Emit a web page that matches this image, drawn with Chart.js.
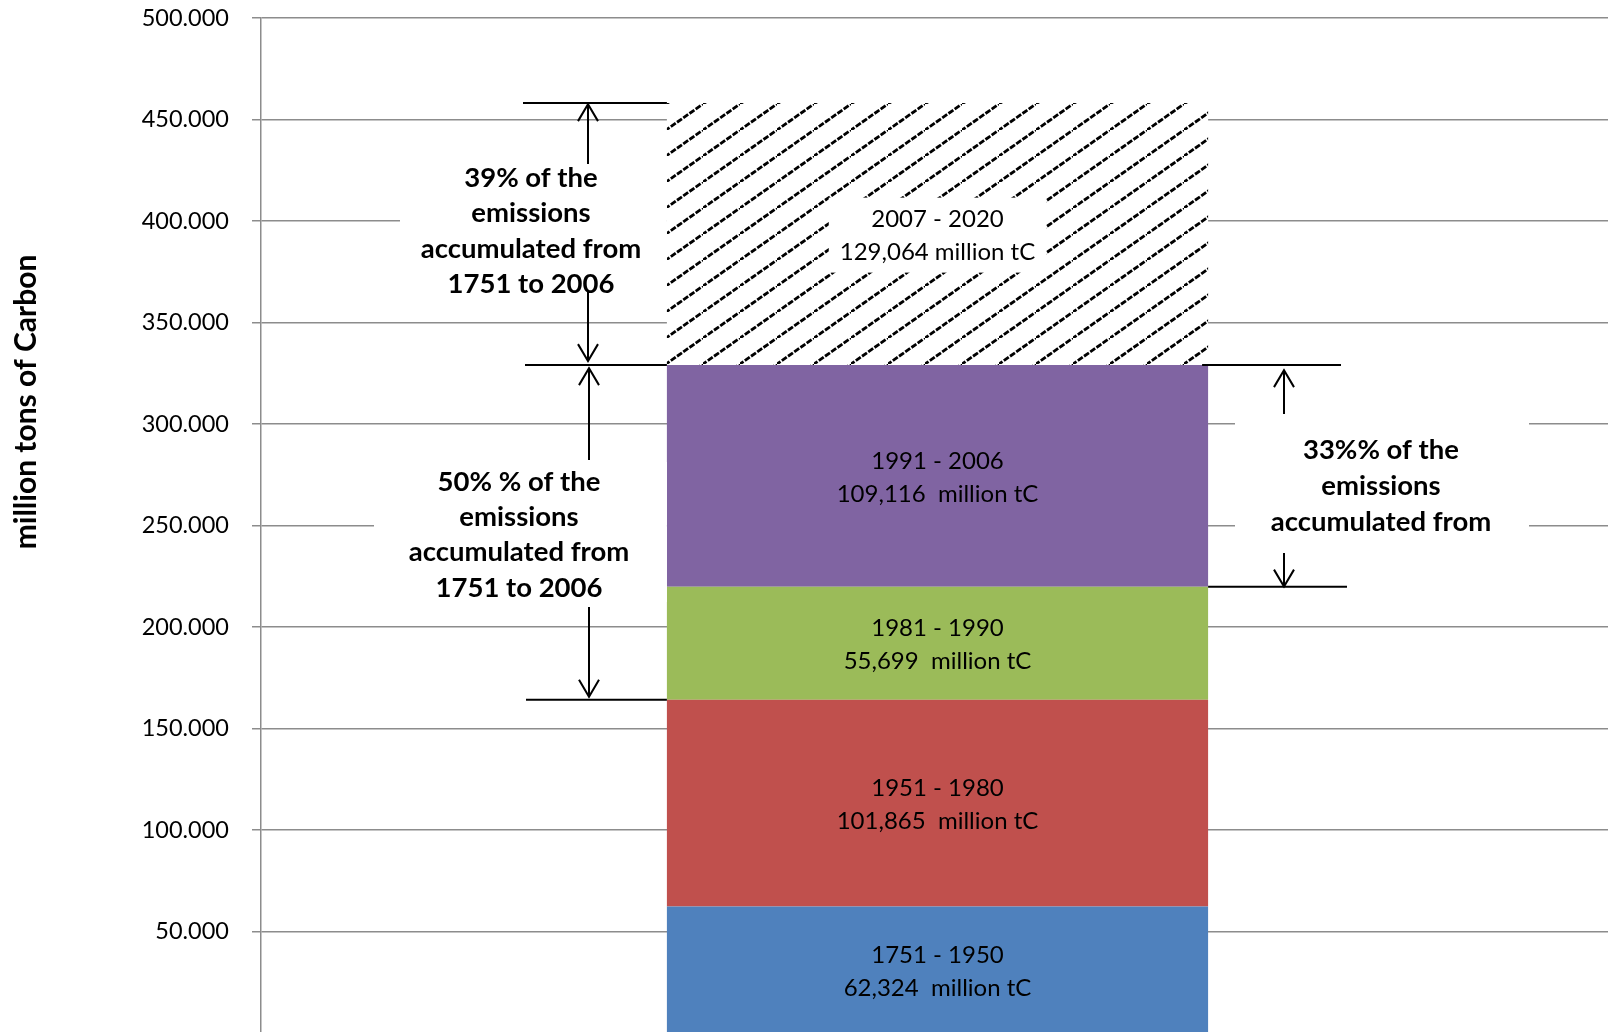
<!DOCTYPE html>
<html>
<head>
<meta charset="utf-8">
<script src="https://cdn.jsdelivr.net/npm/chart.js@4.4.0/dist/chart.umd.min.js"></script>
<style>
  html, body { margin: 0; padding: 0; background: #fff; overflow: hidden; }
</style>
</head>
<body>
<canvas id="chart" width="1614" height="1100"></canvas>
<script>
// periods stacked from the bottom up
const periods = ['1751 - 1950', '1951 - 1980', '1981 - 1990', '1991 - 2006', '2007 - 2020'];
const emissions = [62324, 101865, 55699, 109116, 129064];
const valueLabels = ['62,324  million tC', '101,865  million tC', '55,699  million tC', '109,116  million tC', '129,064 million tC'];
const segmentColors = ['#4F81BD', '#C0504D', '#9BBB59', '#8064A2', 'hatch'];
const yTicks = [0, 50000, 100000, 150000, 200000, 250000, 300000, 350000, 400000, 450000, 500000];
const yTitle = 'million tons of Carbon';

const noteLeftTop = ['39% of the', 'emissions', 'accumulated from', '1751 to 2006'];
const noteLeftBottom = ['50% % of the', 'emissions', 'accumulated from', '1751 to 2006'];
const noteRight = ['33%% of the', 'emissions', 'accumulated from'];

// cumulative totals, used for the bracket lines
const cumulative = [];
emissions.reduce((acc, v) => { cumulative.push(acc + v); return acc + v; }, 0);

const FONT = 'Lato, "Open Sans", sans-serif';

function fmtTick(v) {
    if (v === 0) return '';
    const k = Math.floor(v / 1000);
    return k + '.' + String(v % 1000).padStart(3, '0');
}

function makeHatch() {
    const c = document.createElement('canvas');
    c.width = 37; c.height = 26;
    const g = c.getContext('2d');
    g.fillStyle = '#fff';
    g.fillRect(0, 0, c.width, c.height);
    g.strokeStyle = '#000';
    g.lineWidth = 2.8;
    g.setLineDash([6, 1.6]);
    g.beginPath();
    g.moveTo(-1.4, 27);
    g.lineTo(38.4, -1);
    g.stroke();
    return g.createPattern(c, 'repeat');
}

function arrowHead(ctx, x, tipY, dir) {
    // dir = -1 points up, 1 points down
    ctx.beginPath();
    ctx.moveTo(x - 10, tipY - dir * 17);
    ctx.lineTo(x, tipY);
    ctx.lineTo(x + 10, tipY - dir * 17);
    ctx.stroke();
}

function vline(ctx, x, y1, y2) {
    ctx.beginPath();
    ctx.moveTo(x, y1);
    ctx.lineTo(x, y2);
    ctx.stroke();
}

function hline(ctx, x1, x2, y) {
    ctx.beginPath();
    ctx.moveTo(x1, y);
    ctx.lineTo(x2, y);
    ctx.stroke();
}

function textBlock(ctx, lines, cx, firstY, step) {
    lines.forEach((t, i) => ctx.fillText(t, cx, firstY + i * step));
}

const annotationPlugin = {
    id: 'annotations',
    afterDatasetsDraw(chart) {
        const ctx = chart.ctx;
        const y = chart.scales.y;
        const metas = chart.data.datasets.map((d, i) => chart.getDatasetMeta(i).data[0]);
        const bar = metas[0];
        const barLeft = bar.x - bar.width / 2;
        const barRight = bar.x + bar.width / 2;

        ctx.save();
        // segment labels
        ctx.textAlign = 'center';
        ctx.textBaseline = 'middle';
        ctx.font = '24px ' + FONT;
        metas.forEach((el, i) => {
            const cy = (el.y + el.base) / 2 + 1.5;
            if (segmentColors[i] === 'hatch') {
                const w = Math.max(ctx.measureText(periods[i]).width, ctx.measureText(valueLabels[i]).width) + 22;
                ctx.fillStyle = '#fff';
                ctx.fillRect(el.x - w / 2, cy - 38, w, 75);
            }
            ctx.fillStyle = '#000';
            ctx.fillText(periods[i], el.x, cy - 16);
            ctx.fillText(valueLabels[i], el.x, cy + 17);
        });

        const yTotal = y.getPixelForValue(cumulative[4]);
        const y2006 = y.getPixelForValue(cumulative[3]);
        const y1990 = y.getPixelForValue(cumulative[2]);
        const y1980 = y.getPixelForValue(cumulative[1]);

        // white boxes behind the notes hide the grid lines
        ctx.fillStyle = '#fff';
        ctx.fillRect(400, 160, barLeft - 400, 136);
        ctx.fillRect(374, 462, barLeft - 374, 140);
        ctx.fillRect(1235, 417, 294, 130);

        // bracket lines
        ctx.strokeStyle = '#000';
        ctx.lineWidth = 2;
        hline(ctx, 523, barLeft, yTotal);
        hline(ctx, 525, barLeft, y2006);
        hline(ctx, 526, barLeft, y1980);
        hline(ctx, barRight - 6, 1341, y2006);
        hline(ctx, barRight, 1347, y1990);

        // arrows, left top
        vline(ctx, 588, yTotal + 1, 164);
        arrowHead(ctx, 588, yTotal + 1, -1);
        vline(ctx, 588, 292, y2006 - 4);
        arrowHead(ctx, 588, y2006 - 4, 1);
        // left bottom
        vline(ctx, 589, y2006 + 3, 460);
        arrowHead(ctx, 589, y2006 + 3, -1);
        vline(ctx, 589, 607, y1980 - 3);
        arrowHead(ctx, 589, y1980 - 3, 1);
        // right
        vline(ctx, 1284, y2006 + 5, 414);
        arrowHead(ctx, 1284, y2006 + 5, -1);
        vline(ctx, 1284, 553, y1990);
        arrowHead(ctx, 1284, y1990, 1);

        // note texts
        ctx.fillStyle = '#000';
        ctx.font = 'bold 27.5px ' + FONT;
        textBlock(ctx, noteLeftTop, 531, 178, 35.5);
        textBlock(ctx, noteLeftBottom, 519, 482, 35.3);
        textBlock(ctx, noteRight, 1381, 450, 36);
        ctx.restore();
    },
    afterDraw(chart) {
        const ctx = chart.ctx;
        ctx.save();
        ctx.translate(26, 402);
        ctx.rotate(-Math.PI / 2);
        ctx.textAlign = 'center';
        ctx.textBaseline = 'middle';
        ctx.fillStyle = '#000';
        ctx.font = 'bold 30px ' + FONT;
        ctx.fillText(yTitle, 0, 0);
        ctx.restore();
    }
};

document.addEventListener('DOMContentLoaded', function () {
    const hatch = makeHatch();
    const ctx = document.getElementById('chart');

    const datasets = periods.map((p, i) => ({
        label: p,
        data: [emissions[i]],
        backgroundColor: segmentColors[i] === 'hatch' ? hatch : segmentColors[i],
        borderWidth: 0,
        barPercentage: 0.4,
        categoryPercentage: 1
    }));

    new Chart(ctx, {
        type: 'bar',
        data: { labels: [''], datasets: datasets },
        options: {
            responsive: false,
            animation: false,
            layout: { padding: { top: 18, bottom: 67, left: 0, right: 0 } },
            plugins: {
                legend: { display: false },
                tooltip: { enabled: false }
            },
            scales: {
                x: { stacked: true, display: false },
                y: {
                    stacked: true,
                    min: 0,
                    max: 500000,
                    afterBuildTicks: scale => { scale.ticks = yTicks.map(v => ({ value: v })); },
                    afterFit: scale => {
                        scale.width = 261;
                        // tick padding is only wanted horizontally
                        scale.paddingTop = 0;
                        scale.paddingBottom = 0;
                    },
                    ticks: {
                        callback: v => fmtTick(v),
                        color: '#000',
                        font: { family: FONT, size: 23.5 },
                        padding: 23
                    },
                    grid: { color: '#8c8c8c', lineWidth: 1.5, tickLength: 9 },
                    border: { color: '#8c8c8c', width: 1.5 }
                }
            }
        },
        plugins: [annotationPlugin]
    });
});
</script>
</body>
</html>
